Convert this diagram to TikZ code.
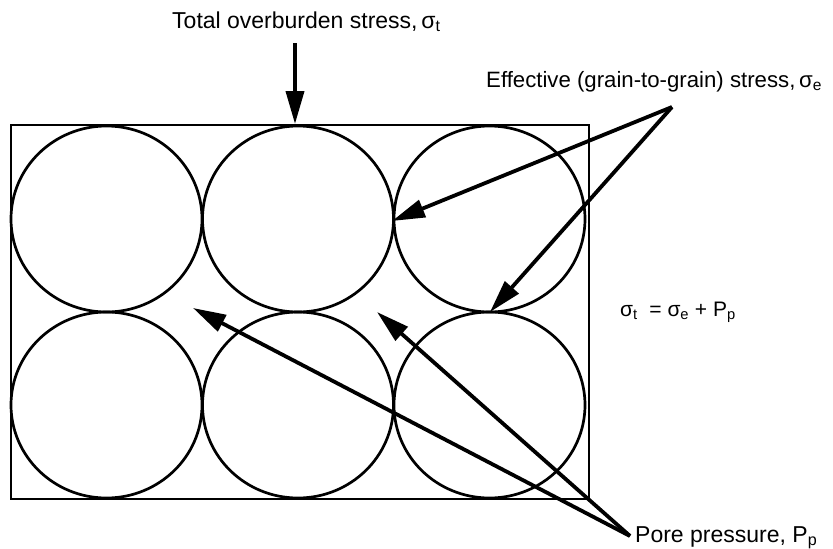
\documentclass[tikz,border=0pt]{standalone}
\usepackage{fontspec}
\setmainfont{Liberation Sans}
\usetikzlibrary{arrows.meta}
\begin{document}
\begin{tikzpicture}[x=1pt,y=-1pt,
  grain/.style={draw, line width=2.7pt},
  boxline/.style={draw, line width=2.8pt},
  lbl/.style={inner sep=0pt, anchor=base west, font=\fontsize{23}{27}\selectfont},
  ptr/.style={line width=3.8pt, -{Triangle[length=33pt,width=18pt]}}]
\useasboundingbox (0,0) rectangle (833,549);
% container
\draw[boxline] (11,125) rectangle (589,499);
% grains
\foreach \n/\cx/\cy in {g11/106.5/219, g12/298/219, g13/489.5/219,
                        g21/106.5/405, g22/298/405, g23/489.5/405}{
  \coordinate (\n) at (\cx,\cy);
  \draw[grain] (\n) ellipse [x radius=95.5pt, y radius=93pt];
}
% labels
\node[lbl] (ttl) at (172,28) {Total overburden stress,\,σ\textsubscript{t}};
\node[lbl, font=\fontsize{22.2}{26}\selectfont] (eff) at (486,87) {Effective (grain-to-grain) stress,\,σ\textsubscript{e}};
\node[lbl, font=\fontsize{21}{25}\selectfont] (eq) at (620,316) {σ\textsubscript{t}\ \ = σ\textsubscript{e} + P\textsubscript{p}};
\node[lbl] (pore) at (635,542) {Pore pressure, P\textsubscript{p}};
% arrow end points
\coordinate (topstart) at (295,43);
\coordinate (toptip) at (295,124);
\coordinate (effapex) at (672,107);
\coordinate (efftipA) at (392,221);
\coordinate (efftipB) at (490,312);
\coordinate (poreapex) at (630,536);
\coordinate (poretipA) at (193,308);
\coordinate (poretipB) at (377,312);
% arrows
\draw[ptr] (topstart) -- (toptip);
\draw[ptr] (effapex) -- (efftipA);
\draw[ptr] (effapex) -- (efftipB);
\draw[ptr] (poreapex) -- (poretipA);
\draw[ptr] (poreapex) -- (poretipB);
\end{tikzpicture}
\end{document}
